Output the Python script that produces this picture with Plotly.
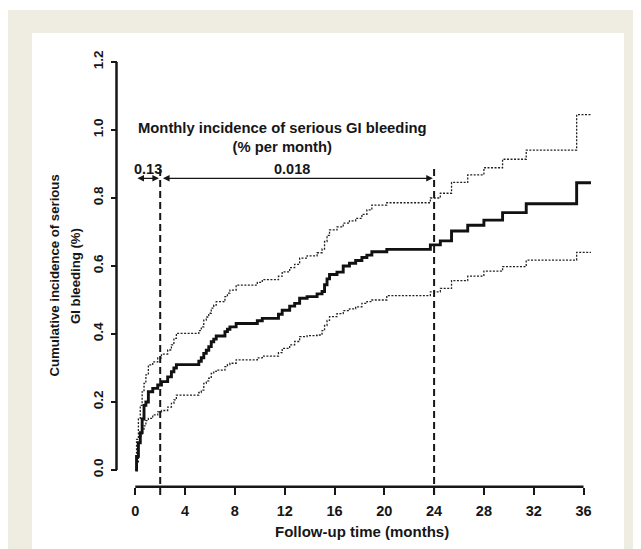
import plotly.graph_objects as go

# ---------------- data ----------------
times = [0, 0.1, 0.25, 0.4, 0.55, 0.7, 0.85, 1.05, 1.4, 1.8, 2.1, 2.6, 2.9, 3.1, 3.3,
         5.1, 5.3, 5.5, 5.7, 5.9, 6.1, 6.3, 6.5, 7.2, 7.4, 7.6, 8.1, 9.8, 10.2, 11.5,
         11.8, 12.4, 12.8, 13.2, 13.8, 14.6, 15.0, 15.2, 15.4, 15.6, 16.2, 16.7, 17.2,
         17.7, 18.2, 18.6, 19.0, 20.2, 23.7, 24.5, 25.4, 26.7, 28.0, 29.5, 31.4, 35.45, 36.6]

incidence = [0, 0.04, 0.08, 0.11, 0.15, 0.19, 0.20, 0.23, 0.24, 0.25, 0.26, 0.274, 0.289, 0.30, 0.31,
             0.32, 0.33, 0.343, 0.352, 0.363, 0.377, 0.385, 0.394, 0.407, 0.414, 0.421, 0.431, 0.439, 0.446, 0.458,
             0.47, 0.482, 0.49, 0.505, 0.51, 0.518, 0.525, 0.545, 0.562, 0.575, 0.582, 0.60, 0.608,
             0.616, 0.625, 0.632, 0.642, 0.649, 0.662, 0.674, 0.703, 0.72, 0.735, 0.757, 0.783, 0.845, 0.845]

upper_ci = [0, 0.09, 0.15, 0.19, 0.23, 0.255, 0.28, 0.309, 0.318, 0.33, 0.341, 0.353, 0.368, 0.387, 0.402,
            0.41, 0.421, 0.441, 0.45, 0.461, 0.476, 0.485, 0.495, 0.51, 0.52, 0.529, 0.544, 0.552, 0.56, 0.57,
            0.583, 0.595, 0.605, 0.623, 0.63, 0.639, 0.65, 0.672, 0.69, 0.706, 0.715, 0.726, 0.733,
            0.74, 0.752, 0.765, 0.779, 0.786, 0.80, 0.814, 0.846, 0.868, 0.889, 0.914, 0.941, 1.045, 1.045]

lower_ci = [0, 0.02, 0.078, 0.10, 0.118, 0.13, 0.145, 0.152, 0.162, 0.171, 0.175, 0.185, 0.196, 0.206, 0.22,
            0.228, 0.235, 0.255, 0.262, 0.27, 0.284, 0.29, 0.294, 0.304, 0.31, 0.314, 0.324, 0.33, 0.335, 0.345,
            0.358, 0.368, 0.378, 0.392, 0.395, 0.397, 0.41, 0.425, 0.44, 0.451, 0.46, 0.469, 0.474,
            0.48, 0.49, 0.495, 0.50, 0.513, 0.524, 0.534, 0.557, 0.57, 0.585, 0.598, 0.617, 0.64, 0.64]

x_ticks = [0, 4, 8, 12, 16, 20, 24, 28, 32, 36]
y_ticks = [0.0, 0.2, 0.4, 0.6, 0.8, 1.0, 1.2]
y_ticktext = ["0.0", "0.2", "0.4", "0.6", "0.8", "1.0", "1.2"]

period_bounds = [0, 2, 24]
period_rates = ["0.13", "0.018"]

# ---------------- geometry (reference-pixel based) ----------------
OFF = 8                       # page body margin of the html page
W, H = 641 - OFF, 549 - OFF   # figure size so that it fills the window
PL, PR, PT, PB = 100, 610, 50, 505   # plot area in window pixels
X0PX, XSCALE = 135.3, 12.45
Y0PX, YSCALE = 470.0, 340.0

def pxx(px):
    return (px - PL) / (PR - PL)

def pxy(py):
    return (PB - py) / (PB - PT)

def dx(px):
    return (px - X0PX) / XSCALE

def dy(py):
    return (Y0PX - py) / YSCALE

xr = [dx(PL), dx(PR)]
yr = [dy(PB), dy(PT)]

INK = "#161616"
FONT = "Liberation Sans"
BEIGE = "#EFECE2"

fig = go.Figure()

fig.add_trace(go.Scatter(x=times, y=upper_ci, mode="lines", line_shape="hv",
                         line=dict(color="#222222", width=1.3, dash="2px,1.5px"),
                         hoverinfo="skip", showlegend=False))
fig.add_trace(go.Scatter(x=times, y=lower_ci, mode="lines", line_shape="hv",
                         line=dict(color="#222222", width=1.3, dash="2px,1.5px"),
                         hoverinfo="skip", showlegend=False))
fig.add_trace(go.Scatter(x=times, y=incidence, mode="lines", line_shape="hv",
                         line=dict(color="#111111", width=2.9),
                         hoverinfo="skip", showlegend=False))

shapes = []
# background frame
shapes.append(dict(type="rect", xref="paper", yref="paper", layer="below",
                   x0=pxx(7), x1=pxx(660), y0=pxy(10), y1=pxy(560),
                   fillcolor=BEIGE, line=dict(width=0)))
shapes.append(dict(type="rect", xref="paper", yref="paper", layer="below",
                   x0=pxx(32), x1=pxx(624), y0=pxy(33), y1=pxy(560),
                   fillcolor="white", line=dict(width=0)))
# R-style detached axis lines
shapes.append(dict(type="line", xref="x", yref="y",
                   x0=dx(116.5), x1=dx(116.5), y0=y_ticks[0], y1=y_ticks[-1],
                   line=dict(color=INK, width=2.5)))
shapes.append(dict(type="line", xref="x", yref="y",
                   x0=x_ticks[0], x1=x_ticks[-1], y0=dy(486.7), y1=dy(486.7),
                   line=dict(color=INK, width=2.5)))
# dashed vertical period boundaries
for xb in period_bounds[1:]:
    shapes.append(dict(type="line", xref="x", yref="y", x0=xb, x1=xb,
                       y0=dy(495), y1=dy(165.5),
                       line=dict(color=INK, width=2, dash="7px,4px")))

annotations = []
arrow_y = dy(178.3)
text_y = dy(169.3)
for i in range(len(period_rates)):
    a, b = period_bounds[i], period_bounds[i + 1]
    annotations.append(dict(x=b - 0.1, y=arrow_y, ax=a + (0.1 if i else 0.05), ay=arrow_y,
                            xref="x", yref="y", axref="x", ayref="y", text="",
                            showarrow=True, arrowside="end+start",
                            arrowhead=2, startarrowhead=2, arrowsize=1.1, startarrowsize=1.1,
                            arrowwidth=1.2, arrowcolor=INK, standoff=0, startstandoff=0))

def txt(x, y, text, size, xref="x", yref="y", angle=0):
    return dict(x=x, y=y, xref=xref, yref=yref, text=text, showarrow=False,
                xanchor="center", yanchor="middle", align="center", textangle=angle,
                font=dict(family=FONT, size=size, color=INK))

annotations.append(txt(dx(148.3), text_y, "<b>" + period_rates[0] + "</b>", 14.5))
annotations.append(txt(dx(291.7), text_y, "<b>" + period_rates[1] + "</b>", 14.5))
annotations.append(txt(dx(282.7), dy(137.3),
                       "<b>Monthly incidence of serious GI bleeding<br>(% per month)</b>", 14.8))
# axis titles
annotations.append(txt(pxx(53.5), pxy(276), "<b>Cumulative incidence of serious</b>", 13.2,
                       "paper", "paper", -90))
annotations.append(txt(pxx(75), pxy(276), "<b>GI bleeding (%)</b>", 13.2, "paper", "paper", -90))
annotations.append(txt(pxx(362), pxy(531), "<b>Follow-up time (months)</b>", 15, "paper", "paper"))

fig.update_layout(
    width=W, height=H, autosize=False,
    margin=dict(l=PL - OFF, r=641 - PR, t=PT - OFF, b=549 - PB, pad=0),
    paper_bgcolor="white", plot_bgcolor="rgba(0,0,0,0)",
    shapes=shapes, annotations=annotations, showlegend=False,
    xaxis=dict(range=xr, tickvals=x_ticks, ticks="outside", ticklen=7, tickwidth=2,
               tickcolor=INK, showline=False, showgrid=False, zeroline=False,
               anchor="free", position=pxy(486.7), ticklabelstandoff=4,
               tickfont=dict(family=FONT, size=14.5, color=INK, weight="bold")),
    yaxis=dict(range=yr, tickvals=y_ticks, ticktext=y_ticktext, tickangle=-90,
               ticks="outside", ticklen=6, tickwidth=2, tickcolor=INK,
               showline=False, showgrid=False, zeroline=False,
               anchor="free", position=pxx(116.5), ticklabelstandoff=2,
               tickfont=dict(family=FONT, size=13.5, color=INK, weight="bold")),
)

fig.write_html("out.html")
